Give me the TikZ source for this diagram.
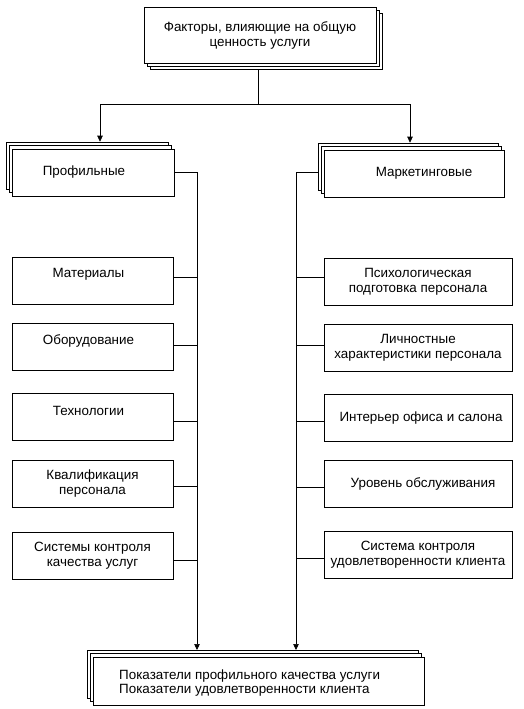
\documentclass[tikz,border=0pt]{standalone}
\usepackage{fontspec}
\setmainfont{Liberation Sans}
\usetikzlibrary{shadows,arrows.meta}
\tikzset{
  box/.style={draw=black, fill=white, line width=0.6pt, inner sep=0pt, align=center,
    font=\fontsize{13.4}{15}\selectfont},
  lbox/.style={box, minimum width=161pt, minimum height=47pt},
  rbox/.style={box, minimum width=188pt, minimum height=47pt},
  stackdown/.style={box,
    copy shadow={shadow xshift=6pt, shadow yshift=-6pt, fill=white, draw=black, line width=0.6pt},
    copy shadow={shadow xshift=3pt, shadow yshift=-3pt, fill=white, draw=black, line width=0.6pt}},
  stackup/.style={box,
    copy shadow={shadow xshift=-6pt, shadow yshift=7pt, fill=white, draw=black, line width=0.6pt},
    copy shadow={shadow xshift=-3pt, shadow yshift=3.5pt, fill=white, draw=black, line width=0.6pt}},
  conn/.style={line width=0.6pt, draw=black},
  arr/.style={conn, -{Triangle[width=5.5pt,length=6pt]}},
  up6/.style={label={[font=\fontsize{13.4}{15}\selectfont, yshift=6pt, xshift=-4pt]center:#1}}
}
\begin{document}
\begin{tikzpicture}[x=1pt,y=-1pt]
\useasboundingbox (0,0) rectangle (523,709);

% top box
\node[stackdown, minimum width=232pt, minimum height=56pt] (top) at (260,35)
  {Факторы, влияющие на общую\\ценность услуги};

% second level
\node[stackup, minimum width=162pt, minimum height=47pt] (pf) at (93,172.5) {Профильные\hspace*{18pt}};
\node[stackup, minimum width=180pt, minimum height=47pt] (mk) at (414,173.5) {\hspace*{20pt}Маркетинговые};

% left boxes
\node[lbox, up6=Материалы] (l1) at (92.5,280.5) {};
\node[lbox, up6=Оборудование] (l2) at (92.5,347) {};
\node[lbox, up6=Технологии] (l3) at (92.5,417) {};
\node[lbox] (l4) at (92.5,483.5) {Квалификация\\персонала};
\node[lbox] (l5) at (92.5,556) {Системы контроля\\качества услуг};

% right boxes
\node[rbox] (r1) at (418,281.5) {Психологическая\\подготовка персонала};
\node[rbox] (r2) at (418,347.5) {Личностные\\характеристики персонала};
\node[rbox] (r3) at (418,418) {\hspace*{6pt}Интерьер офиса и салона};
\node[rbox] (r4) at (418,484) {\hspace*{10pt}Уровень обслуживания};
\node[rbox] (r5) at (418,554.5) {Система контроля\\удовлетворенности клиента};

% bottom box
\node[stackup, minimum width=331pt, minimum height=48pt] (bt) at (258.5,681) {};
\node[font=\fontsize{13.4}{14.5}\selectfont, align=left, anchor=west, inner sep=0pt] (btt) at (119,683)
  {Показатели профильного качества услуги\\Показатели удовлетворенности клиента};

% coordinates
\coordinate (j) at (258,104);
\coordinate (jl) at (100,104);
\coordinate (jr) at (410,104);
\coordinate (tl) at (197,172);
\coordinate (tr) at (296,172);
\coordinate (bl) at (197,650);
\coordinate (br) at (296,650);

% top connectors
\draw[conn] ([yshift=-6pt]top.south -| j) -- (j);
\draw[conn] (jl) -- (jr);
\draw[arr] (jl) -- ([yshift=7pt]pf.north -| jl);
\draw[arr] (jr) -- ([yshift=7pt]mk.north -| jr);

% trunks
\draw[arr] (pf.east |- tl) -- (tl) -- (bl);
\draw[arr] ([xshift=-6pt]mk.west |- tr) -- (tr) -- (br);

% branches left
\draw[conn] ([yshift=3.5pt]l1.east) -- ([yshift=3.5pt]l1.east -| tl);
\draw[conn] ([yshift=2pt]l2.east) -- ([yshift=2pt]l2.east -| tl);
\draw[conn] ([yshift=-4pt]l3.east) -- ([yshift=-4pt]l3.east -| tl);
\draw[conn] ([yshift=-2.5pt]l4.east) -- ([yshift=-2.5pt]l4.east -| tl);
\draw[conn] ([yshift=-4pt]l5.east) -- ([yshift=-4pt]l5.east -| tl);

% branches right
\draw[conn] ([yshift=4.5pt]r1.west) -- ([yshift=4.5pt]r1.west -| tr);
\draw[conn] ([yshift=2.5pt]r2.west) -- ([yshift=2.5pt]r2.west -| tr);
\draw[conn] ([yshift=-3pt]r3.west) -- ([yshift=-3pt]r3.west -| tr);
\draw[conn] ([yshift=-3pt]r4.west) -- ([yshift=-3pt]r4.west -| tr);
\draw[conn] ([yshift=-3.5pt]r5.west) -- ([yshift=-3.5pt]r5.west -| tr);
\end{tikzpicture}
\end{document}
